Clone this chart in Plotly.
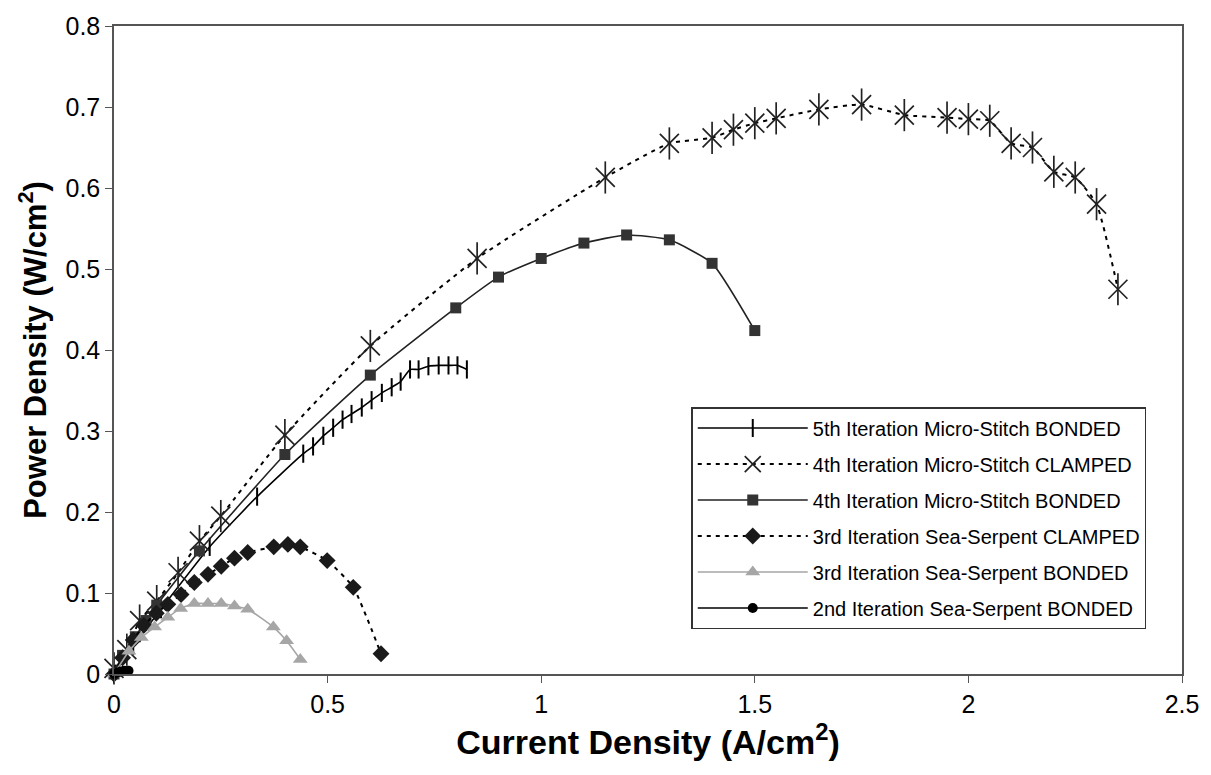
import plotly.graph_objects as go

# ---- data ----
s5_name = "5th Iteration Micro-Stitch BONDED"
s5_x = [0, 0.045, 0.11, 0.224, 0.335, 0.443, 0.466, 0.49, 0.513, 0.535, 0.556, 0.58,
        0.603, 0.627, 0.65, 0.671, 0.693, 0.713, 0.736, 0.76, 0.783, 0.804, 0.826]
s5_y = [0, 0.035, 0.08, 0.157, 0.219, 0.272, 0.281, 0.294, 0.304, 0.314, 0.321, 0.329,
        0.338, 0.347, 0.354, 0.361, 0.376, 0.376, 0.380, 0.381, 0.381, 0.381, 0.376]

s4c_name = "4th Iteration Micro-Stitch CLAMPED"
s4c_x = [0, 0.03, 0.06, 0.1, 0.15, 0.2, 0.25, 0.4, 0.6, 0.85, 1.15, 1.3, 1.4, 1.45,
         1.5, 1.55, 1.65, 1.75, 1.85, 1.95, 2.0, 2.05, 2.1, 2.15, 2.2, 2.25, 2.3, 2.35]
s4c_y = [0.007, 0.03, 0.066, 0.09, 0.125, 0.164, 0.195, 0.295, 0.405, 0.513, 0.613,
         0.655, 0.662, 0.672, 0.68, 0.686, 0.697, 0.703, 0.69, 0.687, 0.685, 0.683,
         0.655, 0.65, 0.62, 0.613, 0.58, 0.475]

s4b_name = "4th Iteration Micro-Stitch BONDED"
s4b_x = [0, 0.02, 0.05, 0.075, 0.1, 0.2, 0.4, 0.6, 0.8, 0.9, 1.0, 1.1, 1.2, 1.3, 1.4, 1.5]
s4b_y = [0, 0.023, 0.046, 0.066, 0.085, 0.152, 0.271, 0.369, 0.452, 0.49, 0.513, 0.532,
         0.542, 0.536, 0.507, 0.424]

s3c_name = "3rd Iteration Sea-Serpent CLAMPED"
s3c_x = [0, 0.02, 0.045, 0.07, 0.099, 0.126, 0.157, 0.188, 0.22, 0.251, 0.282, 0.313,
         0.374, 0.407, 0.436, 0.499, 0.56, 0.625]
s3c_y = [0, 0.02, 0.042, 0.06, 0.075, 0.086, 0.098, 0.113, 0.123, 0.133, 0.143, 0.150,
         0.157, 0.160, 0.157, 0.140, 0.107, 0.025]

s3b_name = "3rd Iteration Sea-Serpent BONDED"
s3b_x = [0, 0.035, 0.064, 0.095, 0.126, 0.156, 0.188, 0.22, 0.251, 0.282, 0.313, 0.373,
         0.404, 0.436]
s3b_y = [0, 0.028, 0.045, 0.058, 0.070, 0.081, 0.087, 0.087, 0.087, 0.084, 0.080, 0.058,
         0.041, 0.018]

s2_name = "2nd Iteration Sea-Serpent BONDED"
s2_x = [0, 0.008, 0.016, 0.024, 0.034]
s2_y = [0, 0.002, 0.003, 0.004, 0.004]

x_ticks = [0, 0.5, 1, 1.5, 2, 2.5]
y_ticks = [0, 0.1, 0.2, 0.3, 0.4, 0.5, 0.6, 0.7, 0.8]

FONT = "Liberation Sans, Arial, sans-serif"
DOT = "4px,5px"

fig = go.Figure()

fig.add_trace(go.Scatter(
    x=s5_x, y=s5_y, name=s5_name, legendgroup="g1", mode="lines+markers",
    line=dict(color="black", width=1.6, shape="spline", smoothing=0.5),
    marker=dict(symbol="line-ns-open", size=13, color="black",
                line=dict(color="black", width=2)),
    cliponaxis=False))

fig.add_trace(go.Scatter(
    x=s4c_x, y=s4c_y, name=s4c_name, legendgroup="g2", mode="lines+markers",
    line=dict(color="black", width=2, dash=DOT, shape="spline", smoothing=0.5),
    marker=dict(symbol="x-thin-open", size=19, color="#222",
                line=dict(color="#222", width=1.7)),
    cliponaxis=False))
fig.add_trace(go.Scatter(
    x=s4c_x, y=s4c_y, name=s4c_name, legendgroup="g2", showlegend=False, mode="markers",
    marker=dict(symbol="line-ns-open", size=23, color="#222",
                line=dict(color="#222", width=1.7)),
    cliponaxis=False, hoverinfo="skip"))

fig.add_trace(go.Scatter(
    x=s4b_x, y=s4b_y, name=s4b_name, legendgroup="g3", mode="lines+markers",
    line=dict(color="#222", width=1.6, shape="spline", smoothing=0.5),
    marker=dict(symbol="square", size=11, color="#333"),
    cliponaxis=False))

fig.add_trace(go.Scatter(
    x=s3c_x, y=s3c_y, name=s3c_name, legendgroup="g4", mode="lines+markers",
    line=dict(color="black", width=2, dash=DOT, shape="spline", smoothing=0.5),
    marker=dict(symbol="diamond", size=13, color="#1a1a1a"),
    cliponaxis=False))

fig.add_trace(go.Scatter(
    x=s3b_x, y=s3b_y, name=s3b_name, legendgroup="g5", mode="lines+markers",
    line=dict(color="#a6a6a6", width=1.6, shape="spline", smoothing=0.5),
    marker=dict(symbol="triangle-up", size=13, color="#a6a6a6"),
    cliponaxis=False))

fig.add_trace(go.Scatter(
    x=s2_x, y=s2_y, name=s2_name, legendgroup="g6", mode="lines+markers",
    line=dict(color="black", width=1.6),
    marker=dict(symbol="circle", size=10, color="black"),
    cliponaxis=False))

axis_common = dict(
    showline=True, linecolor="#555", linewidth=1.5, mirror=True,
    ticks="outside", ticklen=7, tickcolor="#555", tickwidth=1.2,
    showgrid=False, zeroline=False,
    tickfont=dict(family=FONT, size=25, color="black"),
)

fig.update_layout(
    width=1211, height=775,
    margin=dict(l=114, r=28, t=23, b=101),
    paper_bgcolor="white", plot_bgcolor="white",
    font=dict(family=FONT, color="black"),
    xaxis=dict(range=[0, 2.5], tickvals=x_ticks, ticktext=[str(t) for t in x_ticks],
               title=dict(text="Current Density (A/cm<sup>2</sup>)",
                          font=dict(family=FONT, size=34, color="black", weight="bold"),
                          standoff=8),
               **axis_common),
    yaxis=dict(range=[0, 0.8], tickvals=y_ticks, ticktext=[str(t) for t in y_ticks],
               title=dict(text="Power Density (W/cm<sup>2</sup>)",
                          font=dict(family=FONT, size=31, color="black", weight="bold"),
                          standoff=10),
               **axis_common),
    legend=dict(x=0.5405, y=0.412, xanchor="left", yanchor="top",
                bgcolor="white", bordercolor="#333", borderwidth=1.5,
                font=dict(family=FONT, size=20, color="black"),
                itemwidth=110, tracegroupgap=7, traceorder="grouped",
                entrywidth=350, entrywidthmode="pixels"),
    showlegend=True,
)

fig.write_html("out.html")
